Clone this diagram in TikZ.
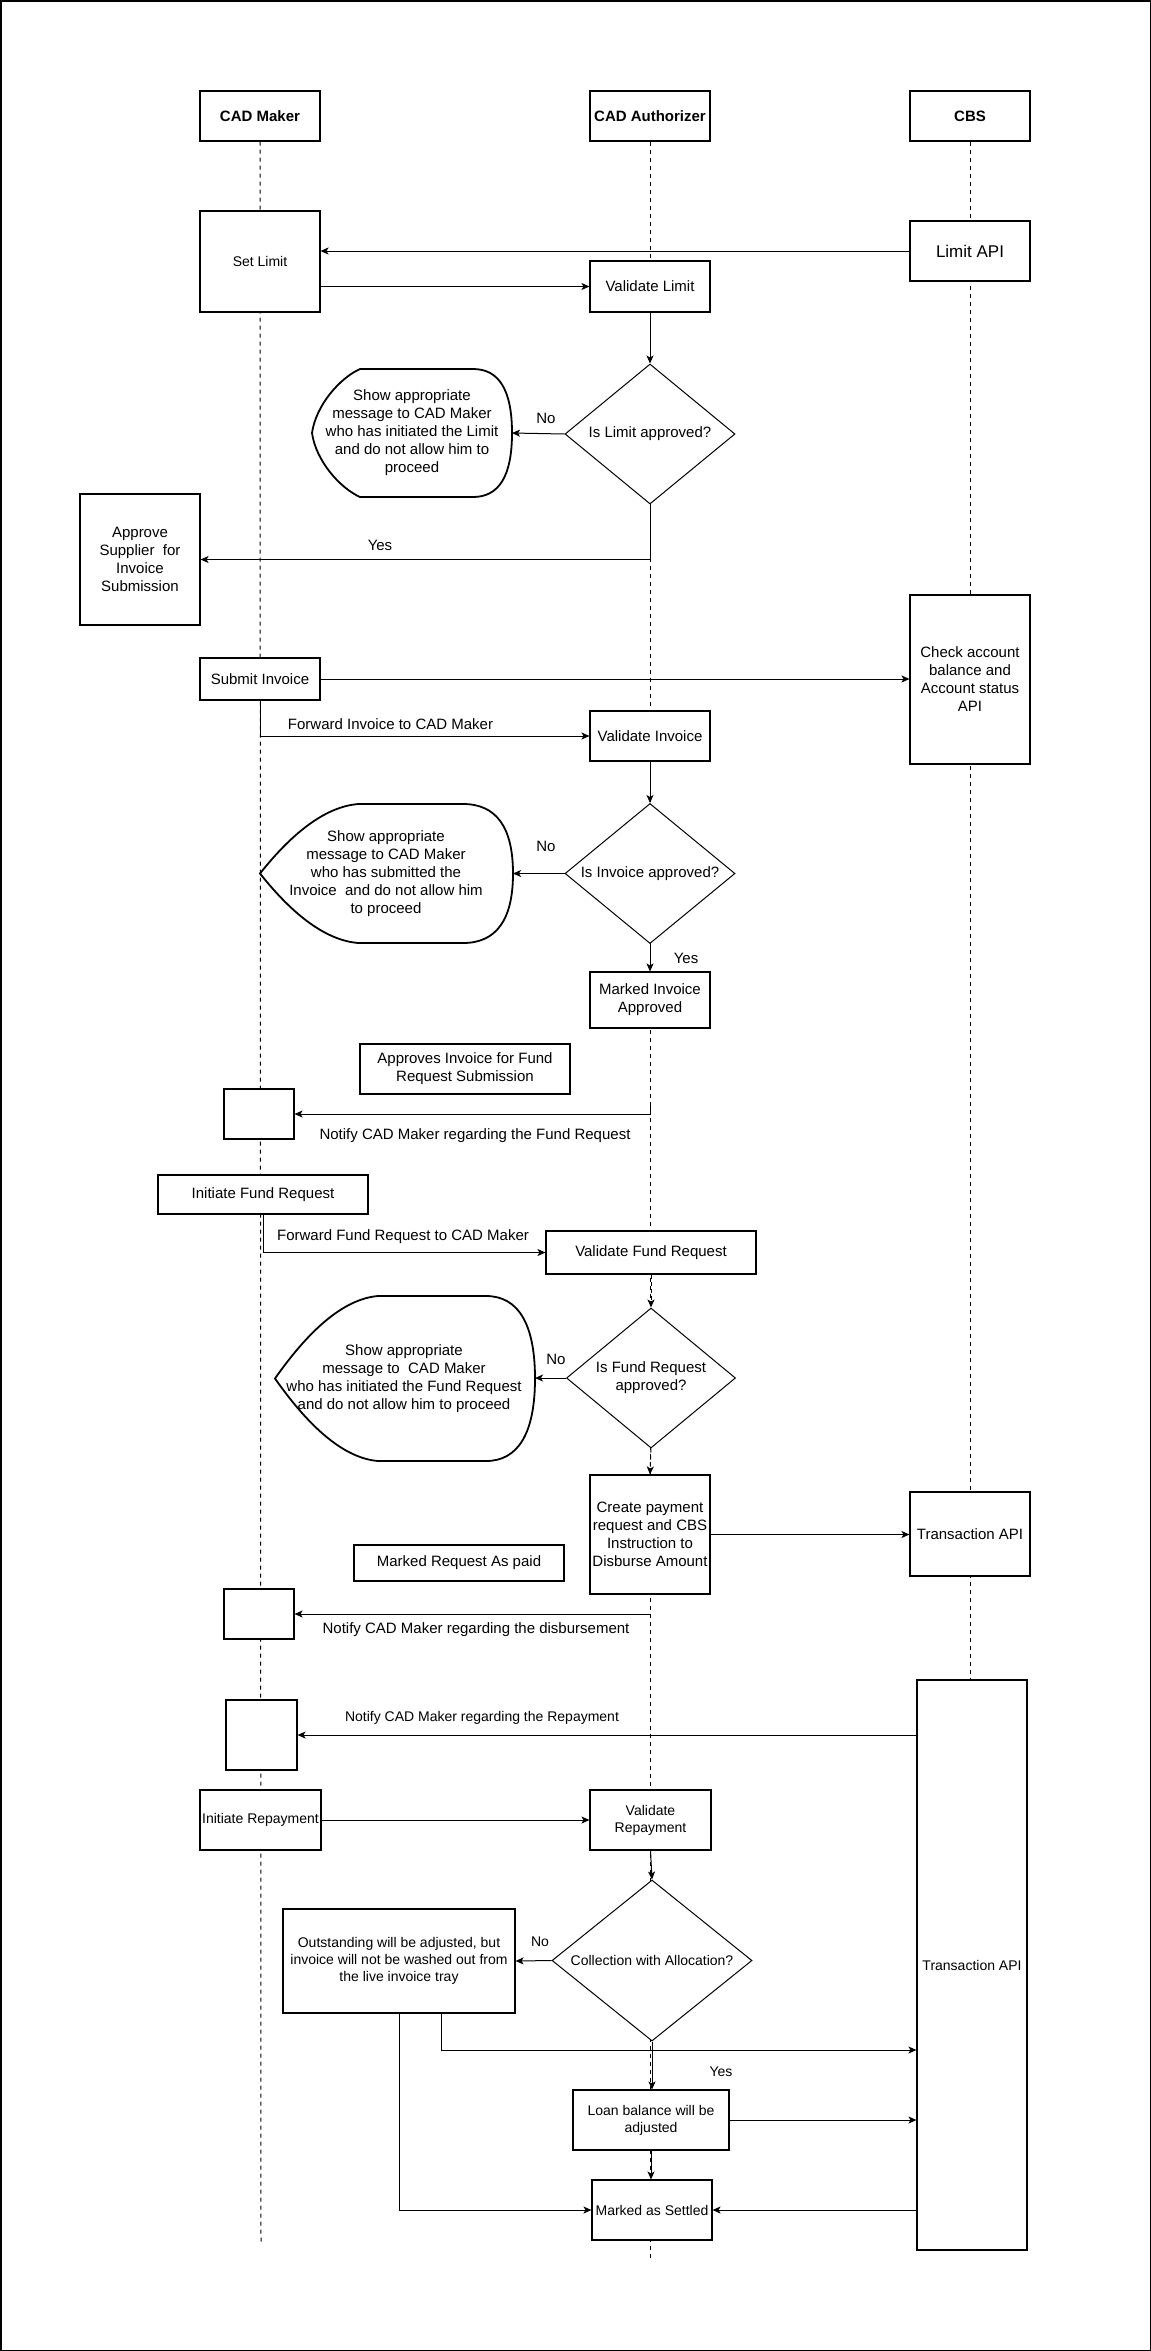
\documentclass[tikz,border=0pt]{standalone}
\usepackage{fontspec}
\setmainfont{Liberation Sans}
\usetikzlibrary{shapes.geometric,arrows.meta,calc}
\begin{document}
\begin{tikzpicture}[x=1pt,y=-1pt,
  f15/.style={font=\fontsize{15}{18}\selectfont},
  f14/.style={font=\fontsize{14}{16.8}\selectfont},
  f17/.style={font=\fontsize{17}{20.4}\selectfont},
  bx/.style={draw, fill=white, line width=1.1pt, align=center, inner sep=0pt, f15},
  hd/.style={bx, font=\fontsize{15}{18}\selectfont\bfseries, minimum width=120pt, minimum height=50pt},
  arr/.style={line width=1pt, -{Stealth[length=8pt,width=7pt,inset=2pt]}},
  darr/.style={arr, dash pattern=on 4pt off 3pt},
  life/.style={line width=1pt, dash pattern=on 4pt off 4pt},
  dia/.style={diamond, draw, fill=white, line width=1pt, inner sep=0pt},
  disp/.style={draw, fill=white, line width=1.8pt},
  lbl/.style={f15, inner sep=0pt},
  txt/.style={f15, align=center, inner sep=0pt}
]
\useasboundingbox (0,0) rectangle (1151,2351);
\draw[line width=1.5pt] (0.75,0.75) rectangle (1150.25,2350.25);

% headers
\node[hd] (hm) at (260,116) {CAD Maker};
\node[hd] (ha) at (650,116) {CAD Authorizer};
\node[hd] (hc) at (970,116) {CBS};

% lifelines
\coordinate (mend) at (261,2243);
\coordinate (aend) at (650,2258);
\draw[life] (hm.south) -- (mend);
\draw[life] (ha.south) -- (aend);
\coordinate (cend) at (970,1680);
\draw[life] (hc.south) -- (cend);

% limit section
\node[bx, f14, minimum width=120pt, minimum height=101pt] (setl) at (260,261.5) {Set Limit};
\node[bx, f17, minimum width=120pt, minimum height=60pt] (lapi) at (970,251) {Limit API};
\node[bx, minimum width=120pt, minimum height=51pt] (vl) at (650,286.5) {Validate Limit};
\node[dia, minimum width=170pt, minimum height=140pt, label={[txt]center:Is Limit approved?}] (d1) at (650,434) {};
\draw[disp] (360,369) -- (473,369) .. controls (499,369) and (512,390) .. (512,433)
  .. controls (512,476) and (499,497) .. (473,497) -- (360,497)
  .. controls (340,488) and (316,461) .. (312,433)
  .. controls (316,405) and (340,378) .. (360,369) -- cycle;
\node[txt] (s1) at (412,433) {Show appropriate\\message to CAD Maker\\who has initiated the Limit\\and do not allow him to\\proceed};
\coordinate (s1r) at (512,433);
\node[bx, minimum width=120pt, minimum height=131pt] (appr) at (140,559.5) {Approve\\Supplier\ \ for\\Invoice\\Submission};

\draw[arr] (lapi.west) -- (lapi.west -| setl.east);
\draw[arr] (vl.west -| setl.east) -- (vl.west);
\draw[arr] (vl.south) -- (d1.north);
\draw[arr] (d1.west) -- (s1r);
\node[lbl] at (546,418) {No};
\draw[arr] (d1.south) |- (appr.east);
\node[lbl] at (380,545) {Yes};

% invoice section
\node[bx, minimum width=120pt, minimum height=169pt] (chk) at (970,679.5) {Check account\\balance and\\Account status\\API};
\node[bx, minimum width=120pt, minimum height=42pt] (subm) at (260,679) {Submit Invoice};
\node[bx, minimum width=120pt, minimum height=50pt] (vi) at (650,736) {Validate Invoice};
\node[dia, minimum width=170pt, minimum height=140pt, label={[txt]center:Is Invoice approved?}] (d2) at (650,873.5) {};
\draw[disp] (358,804) -- (463,804) .. controls (496.3,804) and (513,827.2) .. (513,873.5)
  .. controls (513,919.8) and (496.3,943) .. (463,943) -- (358,943)
  .. controls (327.3,940.3) and (294.7,917.2) .. (260,873.5)
  .. controls (294.7,829.8) and (327.3,806.7) .. (358,804) -- cycle;
\node[txt] (s2) at (386,873.5) {Show appropriate\\message to CAD Maker\\who has submitted the\\Invoice\ \ and do not allow him\\to proceed};
\coordinate (s2r) at (513,873.5);
\node[bx, minimum width=120pt, minimum height=56pt] (mia) at (650,1000) {Marked Invoice\\Approved};

\draw[arr] (subm.east) -- (subm.east -| chk.west);
\draw[arr] (subm.south) |- (vi.west);
\node[lbl] at (390.5,724) {Forward Invoice to CAD Maker};
\draw[arr] (vi.south) -- (d2.north);
\draw[arr] (d2.west) -- (s2r);
\node[lbl] at (546,846) {No};
\draw[arr] (d2.south) -- (mia.north);
\node[lbl] at (686,958) {Yes};

% fund request section
\node[bx, minimum width=210pt, minimum height=50pt] (apfr) at (465,1069) {Approves Invoice for Fund\\Request Submission};
\node[bx, minimum width=70pt, minimum height=50pt] (sb1) at (259,1114) {};
\coordinate (n1) at (650,1103);
\draw[arr] (n1) |- (sb1.east);
\node[lbl] at (475,1136) {Notify CAD Maker regarding the Fund Request};
\node[bx, minimum width=210pt, minimum height=39pt] (ifr) at (263,1194.5) {Initiate Fund Request};
\node[bx, minimum width=210pt, minimum height=43pt] (vfr) at (651,1252.5) {Validate Fund Request};
\draw[arr] (ifr.south) |- (vfr.west);
\node[lbl] at (403,1237) {Forward Fund Request to CAD Maker};
\node[dia, minimum width=169pt, minimum height=140pt, label={[txt]center:Is Fund Request\\approved?}] (d3) at (651,1378) {};
\draw[disp] (378,1296) -- (486,1296) .. controls (518,1296) and (535,1323.5) .. (535,1378.5)
  .. controls (535,1433.5) and (518,1461) .. (486,1461) -- (378,1461)
  .. controls (346,1458.3) and (311.7,1430.8) .. (275,1378.5)
  .. controls (311.7,1326.2) and (346,1298.7) .. (378,1296) -- cycle;
\node[txt] (s3) at (404,1379) {Show appropriate\\message to\ \ CAD Maker\\who has initiated the Fund Request\\and do not allow him to proceed};
\coordinate (s3r) at (535,1378);
\draw[darr] (vfr.south) -- (d3.north);
\draw[arr] (d3.west) -- (s3r);
\node[lbl] at (556,1359) {No};

% disbursement
\node[bx, minimum width=120pt, minimum height=119pt] (cp) at (650,1534.5) {Create payment\\request and CBS\\Instruction to\\Disburse Amount};
\draw[darr] (d3.south) -- (cp.north);
\node[bx, minimum width=120pt, minimum height=84pt] (tapi1) at (970,1534) {Transaction API};
\draw[arr] (cp.east) -- (cp.east -| tapi1.west);
\node[bx, minimum width=210pt, minimum height=36pt] (mrp) at (459,1563) {Marked Request As paid};
\node[bx, minimum width=70pt, minimum height=50pt] (sb2) at (259,1614) {};
\draw[arr] (sb2.east -| cp.south) -- (sb2.east);
\node[lbl] at (476,1630) {Notify CAD Maker regarding the disbursement};

% repayment
\node[bx, f14, minimum width=110pt, minimum height=570pt] (tapi2) at (972,1965) {Transaction API};
\node[bx, minimum width=71pt, minimum height=70pt] (sb3) at (261.5,1735) {};
\draw[arr] (sb3.east -| tapi2.west) -- (sb3.east);
\node[lbl, f14] at (482,1718) {Notify CAD Maker regarding the Repayment};
\node[bx, f14, minimum width=121pt, minimum height=60pt] (ir) at (260.5,1820) {Initiate Repayment};
\node[bx, f14, minimum width=121pt, minimum height=60pt] (vr) at (650.5,1820) {Validate\\Repayment};
\draw[arr] (ir.east) -- (vr.west);
\node[dia, minimum width=200pt, minimum height=161pt, label={[txt,f14]center:Collection with Allocation?}] (d4) at (652,1960.5) {};
\draw[arr] (vr.south) -- (d4.north);
\node[bx, f14, minimum width=232pt, minimum height=104pt] (os) at (399,1961) {Outstanding will be adjusted, but\\invoice will not be washed out from\\the live invoice tray};
\draw[arr] (d4.west) -- (os.east);
\node[lbl, f14] at (540,1942) {No};
\node[bx, f14, minimum width=156pt, minimum height=60pt] (lo) at (651,2120) {Loan balance will be\\adjusted};
\node[bx, f14, minimum width=120pt, minimum height=60pt] (mas) at (652,2210) {Marked as Settled};
\coordinate (c50) at (0,2050);
\draw[arr] ([xshift=-74pt]os.south east) |- (tapi2.west |- c50);
\draw[arr] (d4.south) -- (d4.south |- lo.north);
\node[lbl, f14] at (721,2072) {Yes};
\draw[arr] (lo.east) -- (lo.east -| tapi2.west);
\draw[arr] (lo.south) -- (lo.south |- mas.north);
\draw[arr] (os.south) |- (mas.west);
\draw[arr] (mas.east -| tapi2.west) -- (mas.east);
\end{tikzpicture}
\end{document}
